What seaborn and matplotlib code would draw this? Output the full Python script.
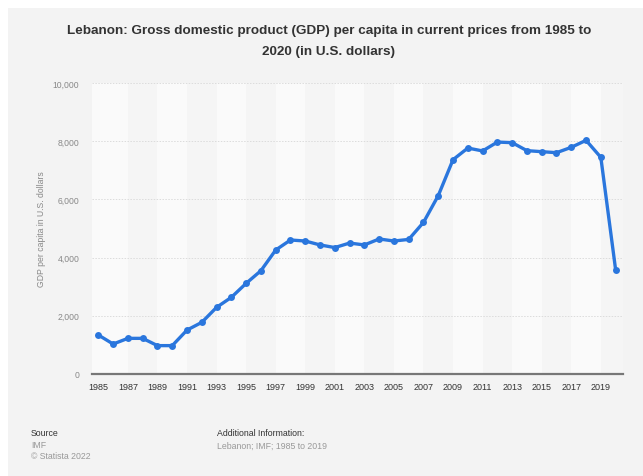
import matplotlib
matplotlib.use("Agg")
import matplotlib.pyplot as plt
import seaborn as sns
import pandas as pd
from matplotlib.patches import Rectangle

years = list(range(1985, 2021))
gdp_per_capita = [1340, 1030, 1225, 1225, 975, 975, 1510, 1775, 2290, 2635,
                  3115, 3550, 4260, 4605, 4570, 4435, 4345, 4500, 4435, 4640,
                  4570, 4625, 5210, 6130, 7365, 7765, 7665, 7970, 7950, 7675,
                  7640, 7605, 7790, 8030, 7445, 3585]
xtick_years = list(range(1985, 2020, 2))
ytick_values = [0, 2000, 4000, 6000, 8000, 10000]

df = pd.DataFrame({"year": years, "gdp": gdp_per_capita})

sns.set_style("white")
plt.rcParams['font.family'] = ['Liberation Sans', 'DejaVu Sans']

W, H = 643, 477
fig = plt.figure(figsize=(W / 100, H / 100), dpi=100, facecolor="white")
fig.patches.append(Rectangle((8 / W, 0), 1, (H - 9) / H, transform=fig.transFigure,
                             facecolor="#f3f3f3", edgecolor="none", zorder=-10))

ax = fig.add_axes([91.7 / W, (H - 375) / H, (623 - 91.7) / W, (375 - 84) / H])
ax.set_facecolor("#f5f5f5")

xmin, xmax = 1984.55, 2020.5
# alternating column bands
edges = [xmin] + list(range(1987, 2020, 2)) + [xmax]
for i in range(len(edges) - 1):
    col = "#fafafa" if i % 2 == 0 else "#f5f5f5"
    ax.axvspan(edges[i], edges[i + 1], color=col, lw=0, zorder=0)

for v in ytick_values[1:]:
    ax.axhline(v, color="#dcdcdc", lw=0.7, ls=(0, (1.5, 1.5)), zorder=1)

sns.lineplot(data=df, x="year", y="gdp", ax=ax, color="#2a76dd", lw=2.4,
             marker="o", markersize=5.0, markeredgewidth=0, zorder=5)

ax.set_xlim(xmin, xmax)
ax.set_ylim(0, 10000)
ax.set_xticks(xtick_years)
ax.set_xticklabels([str(y) for y in xtick_years], fontsize=6.5, color="#333333")
ax.set_yticks(ytick_values)
ax.set_yticklabels([f"{v:,}" for v in ytick_values], fontsize=6.2, color="#888888")
ax.tick_params(axis="both", length=0)
ax.tick_params(axis="y", pad=9)
ax.tick_params(axis="x", pad=6)
ax.set_xlabel("")
ax.set_ylabel("GDP per capita in U.S. dollars", fontsize=6.2, color="#888888", labelpad=5)

for s in ["top", "right", "left"]:
    ax.spines[s].set_visible(False)
ax.spines["bottom"].set_color("#777777")
ax.spines["bottom"].set_linewidth(1.6)
ax.spines["bottom"].set_zorder(6)

fig.text(328.7 / W, 1 - 31 / H,
         "Lebanon: Gross domestic product (GDP) per capita in current prices from 1985 to",
         ha="center", va="center", fontsize=9.7, fontweight="bold", color="#333333")
fig.text(328.7 / W, 1 - 52 / H, "2020 (in U.S. dollars)",
         ha="center", va="center", fontsize=9.7, fontweight="bold", color="#333333")

fs = 6.3
fig.text(31 / W, 1 - 434 / H, "Source", fontsize=fs, color="#333333", va="center")
fig.text(31 / W, 1 - 446 / H, "IMF", fontsize=fs, color="#999999", va="center")
fig.text(31 / W, 1 - 457 / H, "© Statista 2022", fontsize=fs, color="#999999", va="center")
fig.text(217 / W, 1 - 434 / H, "Additional Information:", fontsize=fs, color="#333333", va="center")
fig.text(217 / W, 1 - 446 / H, "Lebanon; IMF; 1985 to 2019", fontsize=fs, color="#999999", va="center")

fig.savefig("out.png", dpi=100, facecolor=fig.get_facecolor())
